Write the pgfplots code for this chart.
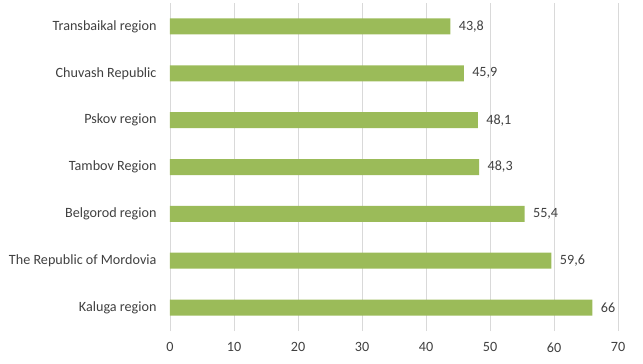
\documentclass[border=0pt]{standalone}
\usepackage{pgfplots}
\pgfplotsset{compat=1.18}
\usepackage{fontspec}
\setmainfont{Carlito}
\definecolor{bargreen}{HTML}{9BBB59}
\definecolor{gridgray}{HTML}{D9D9D9}
\definecolor{txtgray}{HTML}{404040}
\begin{document}
\begin{tikzpicture}
\begin{axis}[
  at={(0,0)}, anchor=south west,
  scale only axis,
  width=448bp, height=328bp,
  xbar, bar width=16bp,
  xmin=0, xmax=70,
  ymin=-0.5, ymax=6.5,
  xtick={0,10,...,70},
  ytick={0,1,2,3,4,5,6},
  yticklabels={Kaluga region,The Republic of Mordovia,Belgorod region,Tambov Region,Pskov region,Chuvash Republic,Transbaikal region},
  xmajorgrids, major grid style={gridgray, line width=0.8pt},
  axis line style={draw=none},
  major tick length=0pt,
  /pgf/number format/assume math mode=true,
  /pgf/number format/use comma,
  ticklabel style={font=\fontsize{14.2}{16}\selectfont, text=txtgray},
  yticklabel style={xshift=-10bp},
  xticklabel style={yshift=-8bp},
  nodes near coords,
  nodes near coords style={font=\fontsize{14.2}{16}\selectfont, text=txtgray, xshift=5bp},
]
\addplot[fill=bargreen, draw=none] coordinates {
(66,0) (59.6,1) (55.4,2) (48.3,3) (48.1,4) (45.9,5) (43.8,6)
};
\end{axis}
\pgfresetboundingbox
\path[use as bounding box] (-170bp,-33bp) rectangle (473bp,331bp);
\end{tikzpicture}
\end{document}
